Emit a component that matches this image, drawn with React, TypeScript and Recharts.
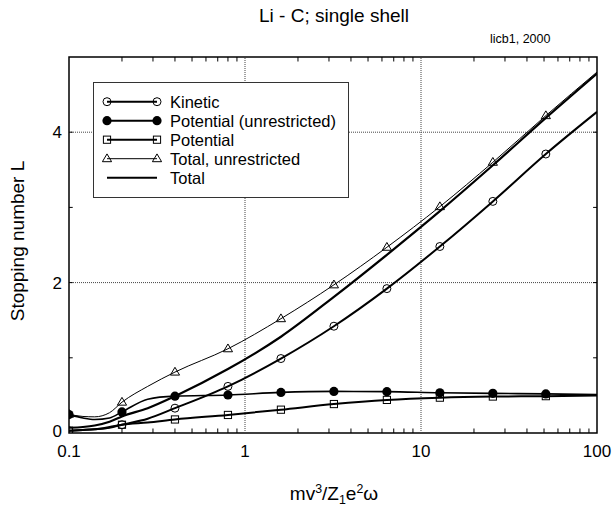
import React from 'react';
import { LineChart, Line, XAxis, YAxis, ReferenceLine, ReferenceArea, Legend } from 'recharts';

// mv^3/Z1e^2ω values where the curves were sampled
const speedX = [0.1, 0.12, 0.14, 0.17, 0.2, 0.28, 0.4, 0.8, 1.6, 3.2, 6.4, 12.8, 25.6, 51.2, 100];
// sample points that carry a symbol
const markerX = [0.1, 0.2, 0.4, 0.8, 1.6, 3.2, 6.4, 12.8, 25.6, 51.2];

const kinetic = [0.03, 0.04, 0.05, 0.07, 0.11, 0.19, 0.33, 0.62, 0.99, 1.42, 1.92, 2.48, 3.08, 3.71, 4.27];
const potentialUnrestricted = [0.245, 0.2, 0.18, 0.2, 0.28, 0.45, 0.49, 0.505, 0.54, 0.553, 0.55, 0.535, 0.527, 0.52, 0.51];
const potential = [0.03, 0.04, 0.05, 0.08, 0.11, 0.14, 0.18, 0.24, 0.31, 0.385, 0.44, 0.47, 0.485, 0.49, 0.5];
const totalUnrestricted = [0.25, 0.22, 0.215, 0.27, 0.41, 0.62, 0.81, 1.12, 1.52, 1.97, 2.47, 3.01, 3.6, 4.22, 4.8];
const total = [0.07, 0.08, 0.1, 0.15, 0.22, 0.33, 0.49, 0.85, 1.28, 1.81, 2.37, 2.95, 3.56, 4.19, 4.78];

const xTicks = [0.1, 1, 10, 100];
const yTicks = [0, 2, 4];
const xGrid = [1, 10];
const yGrid = [2, 4];
const yMinor = [1, 2, 3, 4];
const xMinor = [0.1, 1, 10].flatMap(d => [2, 3, 4, 5, 6, 7, 8, 9].map(k => +(k * d).toPrecision(3)));

type Marker = 'circle' | 'dot' | 'square' | 'triangle' | 'none';

const series: { name: string; values: number[]; marker: Marker; width: number }[] = [
    { name: 'Kinetic', values: kinetic, marker: 'circle', width: 2 },
    { name: 'Potential (unrestricted)', values: potentialUnrestricted, marker: 'dot', width: 1.6 },
    { name: 'Potential', values: potential, marker: 'square', width: 2 },
    { name: 'Total, unrestricted', values: totalUnrestricted, marker: 'triangle', width: 1 },
    { name: 'Total', values: total, marker: 'none', width: 2.2 },
];

const drawMarker = (kind: Marker, cx: number, cy: number, key?: string | number) => {
    switch (kind) {
        case 'circle':
            return <circle key={key} cx={cx} cy={cy} r={4} fill="none" stroke="#000" strokeWidth={1} />;
        case 'dot':
            return <circle key={key} cx={cx} cy={cy} r={4.6} fill="#000" />;
        case 'square':
            return <rect key={key} x={cx - 3.6} y={cy - 3.6} width={7.2} height={7.2} fill="none" stroke="#000" strokeWidth={1} />;
        case 'triangle':
            return (
                <path key={key} d={`M${cx},${cy - 4.8}L${cx - 4.6},${cy + 3}L${cx + 4.6},${cy + 3}Z`}
                    fill="none" stroke="#000" strokeWidth={1} />
            );
        default:
            return <g key={key} />;
    }
};

const LegendBox = () => (
    <svg width={256} height={116} style={{ display: 'block' }}>
        <rect x={0.5} y={0.5} width={255} height={115} fill="#fff" stroke="#333" strokeWidth={1} />
        {series.map((s, i) => {
            const cy = 19.7 + i * 19;
            return (
                <g key={s.name}>
                    <line x1={14} x2={64} y1={cy} y2={cy} stroke="#000" strokeWidth={s.width < 1.5 ? 1 : 2} />
                    {drawMarker(s.marker, 14, cy)}
                    {drawMarker(s.marker, 64, cy)}
                    <text x={77} y={cy} dy={6} fontSize={16.5} fill="#000">{s.name}</text>
                </g>
            );
        })}
    </svg>
);

const XTick = ({ x, y, payload }: any) => (
    <text x={x} y={y} dy={24} textAnchor="middle" fontSize={17} fill="#000">{payload.value}</text>
);

const YTick = ({ x, y, payload }: any) => (
    <text x={x - 7} y={y} dy={payload.value === 0 ? 4 : 6} textAnchor="end" fontSize={17} fill="#000">
        {payload.value}
    </text>
);

const sup = { fontSize: '0.65em', position: 'relative' as const, top: '-0.55em' };
const sub = { fontSize: '0.65em', position: 'relative' as const, top: '0.3em' };

const StoppingChart = () => {
    return (
        <div style={{ position: 'absolute', left: 0, top: 0, width: 613, height: 508, background: '#fff',
            fontFamily: '"Liberation Sans", Arial, sans-serif', color: '#000' }}>

            <div style={{ position: 'absolute', left: 184, top: 6, width: 300, textAlign: 'center',
                fontSize: 19, lineHeight: '19px' }}>
                Li - C; single shell
            </div>
            <div style={{ position: 'absolute', left: 490, top: 33, fontSize: 12.5, lineHeight: '12.5px' }}>
                licb1, 2000
            </div>

            <LineChart width={613} height={508} margin={{ top: 57, right: 16, left: 0, bottom: 0 }}>
                <XAxis dataKey="x" type="number" scale="log" domain={[0.1, 100]} ticks={xTicks}
                    allowDataOverflow axisLine={false} tickLine={false} tickSize={0} tickMargin={0}
                    height={75} tick={<XTick />} interval={0} />
                <YAxis type="number" domain={[0, 5]} ticks={yTicks} allowDataOverflow axisLine={false}
                    tickLine={false} tickSize={0} tickMargin={0} width={69} tick={<YTick />} interval={0} />

                {xGrid.map(v => (
                    <ReferenceLine key={`gx${v}`} x={v} stroke="#444" strokeDasharray="1 1" strokeWidth={1} />
                ))}
                {yGrid.map(v => (
                    <ReferenceLine key={`gy${v}`} y={v} stroke="#444" strokeDasharray="1 1" strokeWidth={1} />
                ))}

                {/* inward minor ticks on all four sides */}
                {xMinor.map(v => (
                    <ReferenceLine key={`bt${v}`} segment={[{ x: v, y: 0 }, { x: v, y: 0.06 }]} stroke="#000" />
                ))}
                {xMinor.map(v => (
                    <ReferenceLine key={`tt${v}`} segment={[{ x: v, y: 5 }, { x: v, y: 4.94 }]} stroke="#000" />
                ))}
                {yMinor.map(v => (
                    <ReferenceLine key={`lt${v}`} segment={[{ x: 0.1, y: v }, { x: 0.105, y: v }]} stroke="#000" />
                ))}
                {yMinor.map(v => (
                    <ReferenceLine key={`rt${v}`} segment={[{ x: 95, y: v }, { x: 100, y: v }]} stroke="#000" />
                ))}

                <ReferenceArea x1={0.1} x2={100} y1={0} y2={5} fill="none" stroke="#000" strokeWidth={1.5} />

                {series.map(s => (
                    <Line
                        key={s.name}
                        data={speedX.map((x, i) => ({ x, y: s.values[i] }))}
                        dataKey="y"
                        type="monotone"
                        stroke="#000"
                        strokeWidth={s.width}
                        isAnimationActive={false}
                        activeDot={false}
                        dot={(p: any) =>
                            markerX.includes(p.payload.x)
                                ? drawMarker(s.marker, p.cx, p.cy, `${s.name}-${p.index}`)
                                : <g key={`${s.name}-${p.index}`} />
                        }
                    />
                ))}

                <Legend layout="vertical" verticalAlign="middle" align="center" content={() => <LegendBox />}
                    wrapperStyle={{ left: 93, top: 82, width: 256, height: 116 }} />
            </LineChart>

            <div style={{ position: 'absolute', left: -102, top: 230, width: 240, height: 22, lineHeight: '22px',
                textAlign: 'center', fontSize: 19, transform: 'rotate(-90deg)' }}>
                Stopping number L
            </div>

            <div style={{ position: 'absolute', left: 234, top: 484, width: 200, textAlign: 'center',
                fontSize: 19, lineHeight: '19px' }}>
                mv<span style={sup}>3</span>/Z<span style={sub}>1</span>e<span style={sup}>2</span>ω
            </div>
        </div>
    );
};

export default StoppingChart;
